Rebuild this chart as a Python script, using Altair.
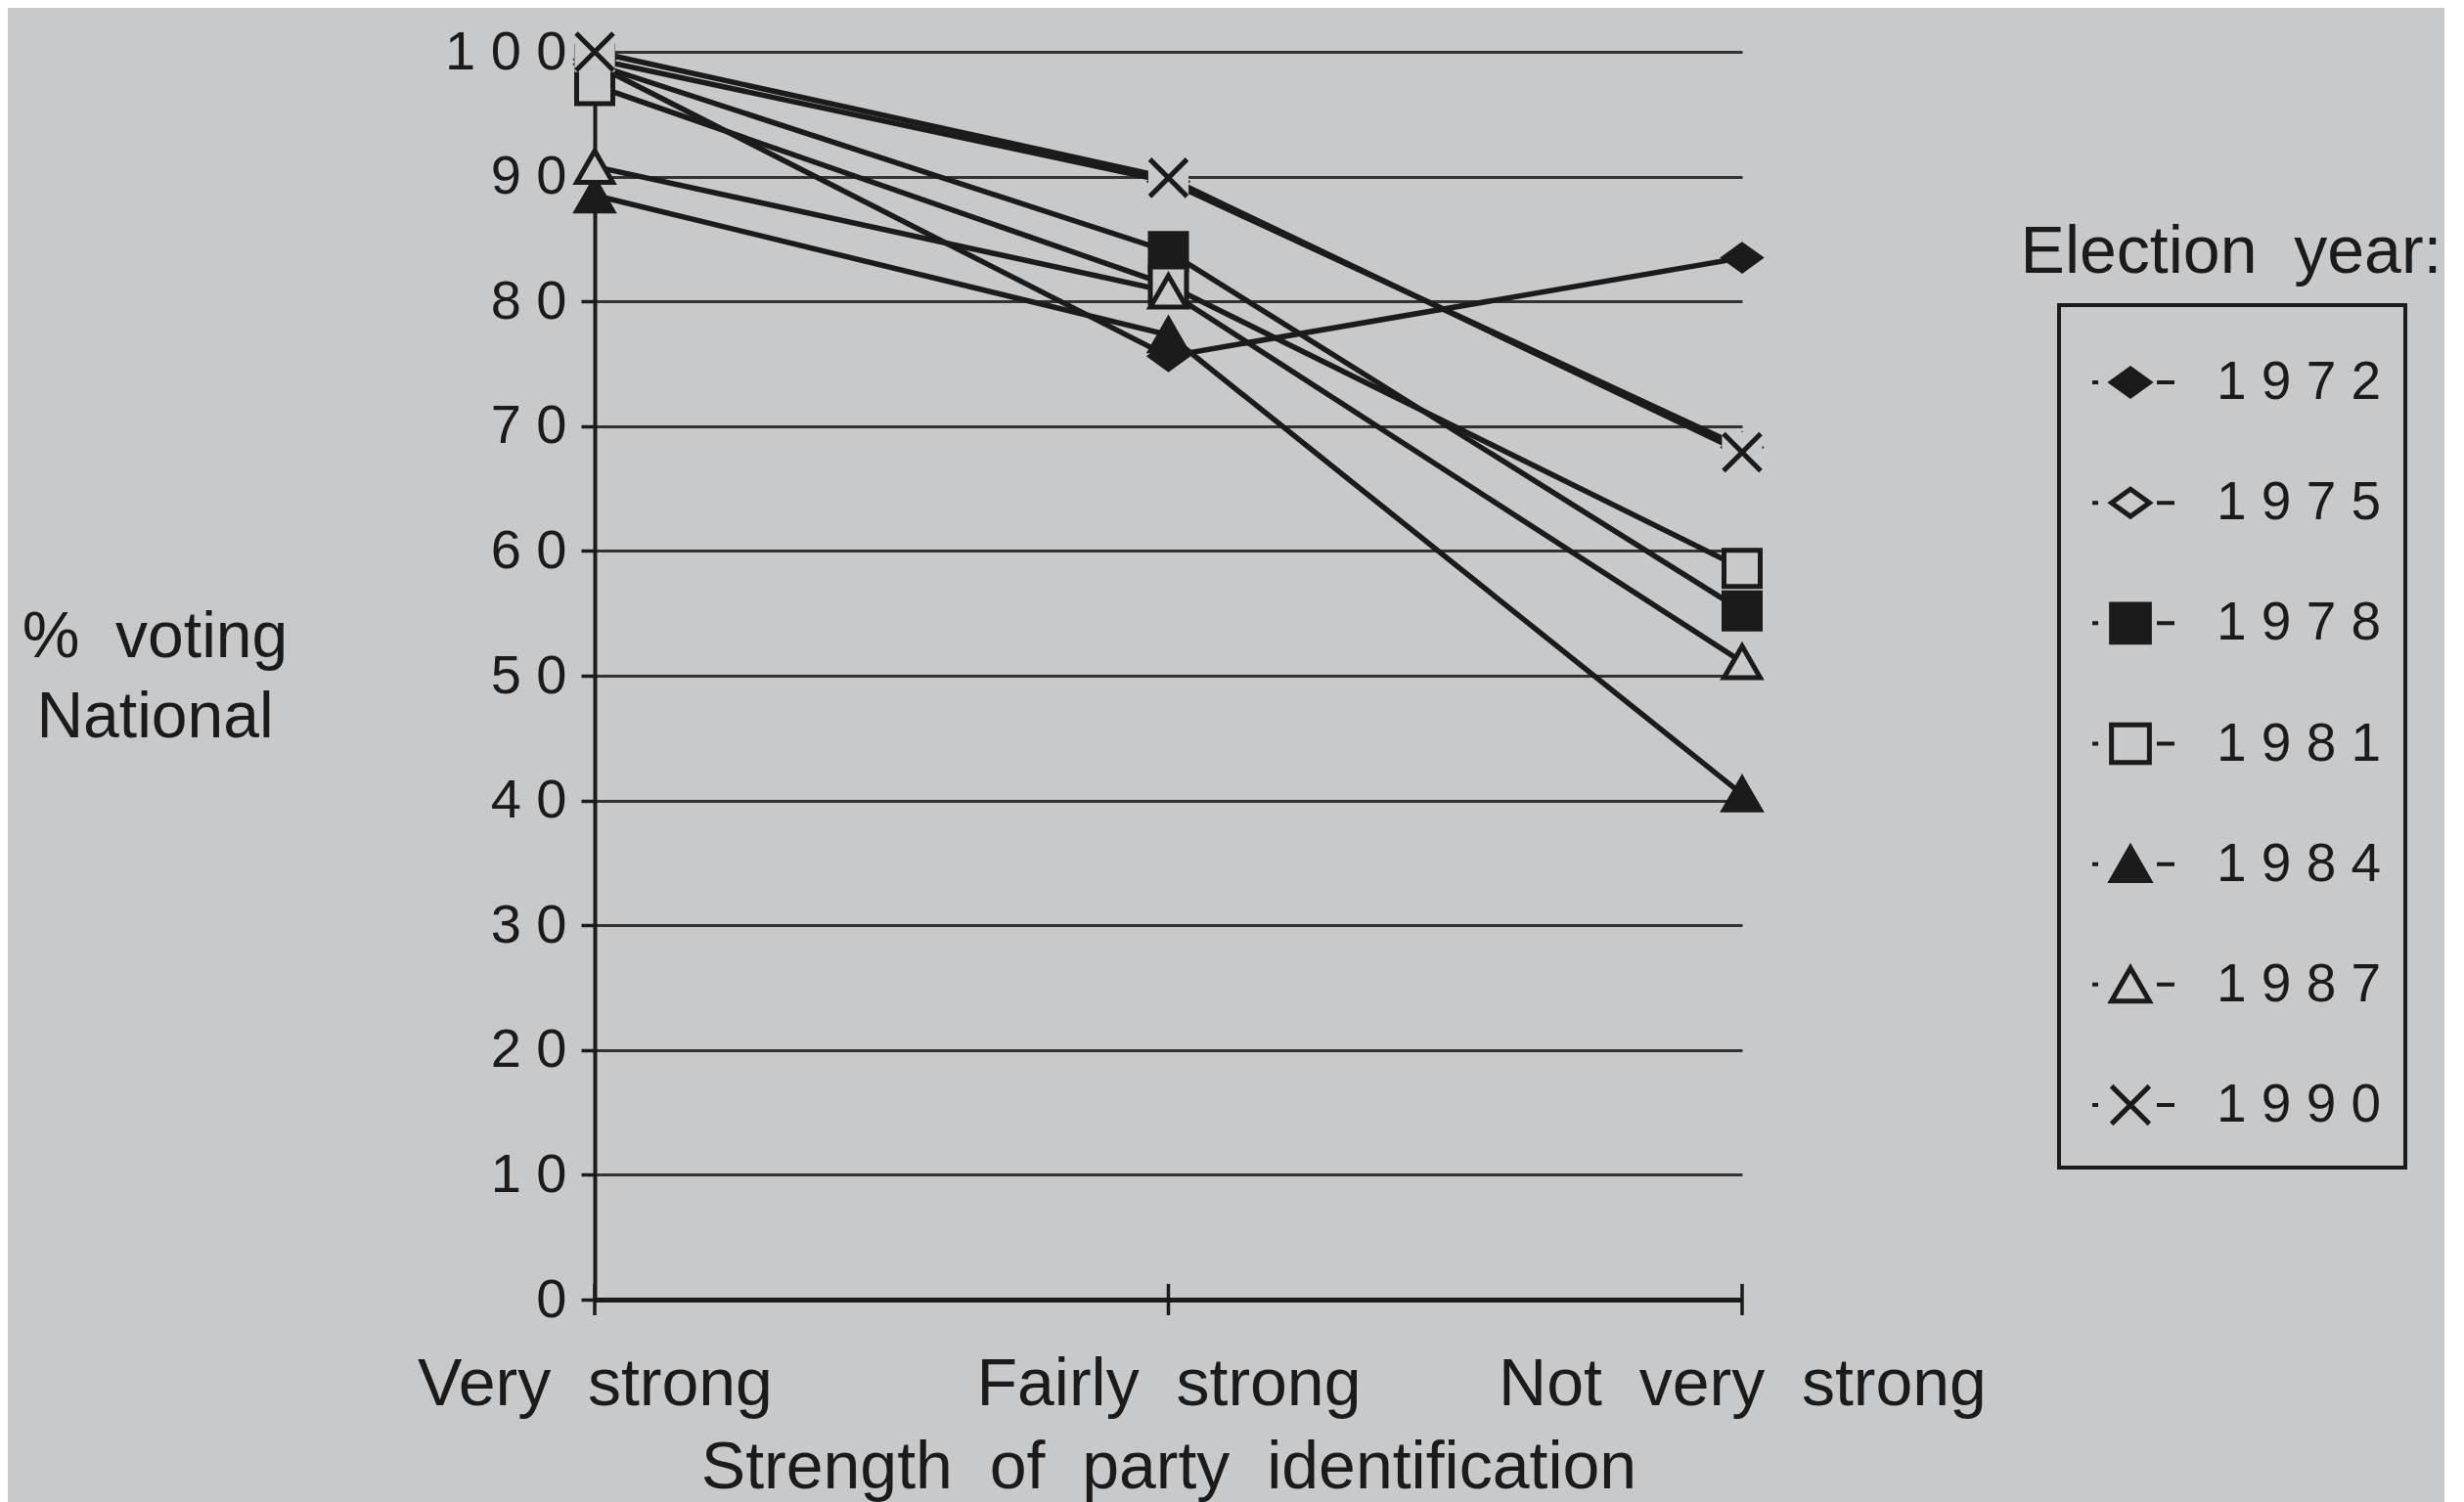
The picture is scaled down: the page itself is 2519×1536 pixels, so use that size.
import altair as alt
import pandas as pd

# ---------------- data ----------------
years = [1972, 1975, 1978, 1981, 1984, 1987, 1990]
strength_labels = ["Very strong", "Fairly strong", "Not very strong"]
very_strong = [99.0, 99.4, 99.0, 97.3, 88.5, 90.8, 100.0]
fairly_strong = [75.6, 89.6, 84.0, 81.3, 77.3, 80.8, 89.9]
not_very_strong = [83.5, 68.3, 55.2, 58.6, 40.5, 51.1, 67.9]
y_ticks = [0, 10, 20, 30, 40, 50, 60, 70, 80, 90, 100]

# ---------------- style ----------------
BG = "#c8c9cb"
INK = "#1b1b1b"
GRID = "#333333"
FONT = "Liberation Sans"
NB = "\u00a0"

P_DIAMOND = "M-1,0L0,-0.72L1,0L0,0.72Z"
P_SQUARE = "M-1,-1L1,-1L1,1L-1,1Z"
P_TRI = "M0,-0.87L1,0.87L-1,0.87Z"
P_X = "M-1,-1L1,1M-1,1L1,-1"
marker_paths = [P_DIAMOND, P_DIAMOND, P_SQUARE, P_SQUARE, P_TRI, P_TRI, P_X]
marker_fills = [INK, BG, INK, BG, INK, BG, BG]

W, H = 1173, 1276

years_str = [str(y) for y in years]
x_years = [ys for ys, p in zip(years_str, marker_paths) if p == P_X]

rows = []
for i, ys in enumerate(years_str):
    for s, vals in zip(strength_labels, [very_strong, fairly_strong, not_very_strong]):
        rows.append({"year": ys, "strength": s, "pct": vals[i]})
df = pd.DataFrame(rows)

x_axis = alt.Axis(
    labelExpr="replace(datum.label, / /g, '" + NB + NB + "')",
    labelAngle=0, labelFont=FONT, labelFontSize=68, labelColor=INK,
    labelBaseline="middle", labelPadding=87, labelLimit=2000,
    ticks=False, grid=False, domainColor=INK, domainWidth=5,
    title=NB.join(["Strength", "", "of", "", "party", "", "identification"]),
    titleFont=FONT, titleFontSize=68, titleFontWeight="normal", titleColor=INK,
    titleY=172, titleBaseline="middle", titleLimit=3000,
)
x_scale = alt.Scale(type="point", padding=0, domain=strength_labels)
x_enc = alt.X("strength:N", scale=x_scale, axis=x_axis)

y_axis = alt.Axis(
    values=y_ticks,
    labelExpr="join(split(datum.label, ''), ' ')",
    labelFont=FONT, labelFontSize=56, labelColor=INK, labelPadding=15,
    ticks=True, tickSize=14, tickWidth=3.5, tickColor=INK,
    domainColor=INK, domainWidth=4,
    grid=True, gridColor=GRID, gridWidth=3,
    title=["%" + NB + NB + "voting", "National"],
    titleAngle=0, titleX=-450, titleY=H / 2 - 40, titleAlign="center",
    titleBaseline="middle", titleFont=FONT, titleFontSize=66,
    titleFontWeight="normal", titleColor=INK, titleLineHeight=82,
)
y_scale = alt.Scale(domain=[0, 100], nice=False)
y_enc = alt.Y("pct:Q", scale=y_scale, axis=y_axis)

shape_enc = alt.Shape("year:N", scale=alt.Scale(domain=years_str, range=marker_paths), legend=None)
fill_enc = alt.Fill("year:N", scale=alt.Scale(domain=years_str, range=marker_fills), legend=None)

base = alt.Chart(df)

lines = base.mark_line(stroke=INK, strokeWidth=5.5).encode(
    x=x_enc, y=y_enc, detail="year:N"
)

pts = base.transform_filter(
    alt.FieldOneOfPredicate(field="year", oneOf=[y for y in years_str if y not in x_years])
).mark_point(filled=True, stroke=INK, strokeWidth=5, opacity=1, size=1369).encode(
    x=x_enc, y=y_enc, shape=shape_enc, fill=fill_enc
)

backing = base.transform_filter(
    alt.FieldOneOfPredicate(field="year", oneOf=x_years)
).mark_point(shape="square", filled=True, fill=BG, strokeWidth=0, opacity=1, size=1700).encode(
    x=x_enc, y=y_enc
)

xpts = base.transform_filter(
    alt.FieldOneOfPredicate(field="year", oneOf=x_years)
).mark_point(filled=True, stroke=INK, strokeWidth=5, opacity=1, size=1444).encode(
    x=x_enc, y=y_enc, shape=shape_enc, fill=fill_enc
)

xticks = alt.Chart(pd.DataFrame({"strength": strength_labels})).mark_tick(
    orient="vertical", size=32, thickness=3.5, color=INK, opacity=1
).encode(x=x_enc, y=alt.YDatum(0, type="quantitative", scale=y_scale, axis=y_axis))

main = alt.layer(lines, xticks, pts, backing, xpts)

# ---------------- legend ----------------
leg_df = pd.DataFrame({"year": years_str, "label": [" ".join(ys) for ys in years_str]})
leg_y = alt.Y("year:N", scale=alt.Scale(type="point", domain=years_str, range=[338, 1077], padding=0), axis=None)
leg = alt.Chart(leg_df)

leg_rules = leg.mark_rule(stroke=INK, strokeWidth=4, strokeDash=[6, 60, 18]).encode(
    x=alt.value(1531), x2=alt.value(1615), y=leg_y
)
leg_pts = leg.mark_point(filled=True, stroke=INK, strokeWidth=5, opacity=1, size=1500).encode(
    x=alt.value(1570), y=leg_y, shape=shape_enc, fill=fill_enc
)
leg_text = leg.mark_text(align="left", baseline="middle", font=FONT, fontSize=55, color=INK).encode(
    x=alt.value(1658), y=leg_y, text="label:N"
)
one = alt.Chart(pd.DataFrame({"k": [0]}))
leg_box = one.mark_rect(fillOpacity=0, stroke=INK, strokeWidth=4).encode(
    x=alt.value(1497), x2=alt.value(1851), y=alt.value(259), y2=alt.value(1141)
)
leg_title = one.mark_text(
    text="Election" + NB + NB + "year:", align="center", baseline="middle",
    font=FONT, fontSize=68, color=INK
).encode(x=alt.value(1673), y=alt.value(206))

legend = alt.layer(leg_box, leg_rules, leg_pts, leg_text, leg_title)

chart = alt.layer(main, legend).resolve_scale(y="independent").properties(
    width=W, height=H, background=BG,
    padding={"left": 14, "top": 16, "right": 2, "bottom": 4},
).configure_view(strokeWidth=0)

chart.save("out.html", embed_options={"renderer": "svg", "actions": False})
